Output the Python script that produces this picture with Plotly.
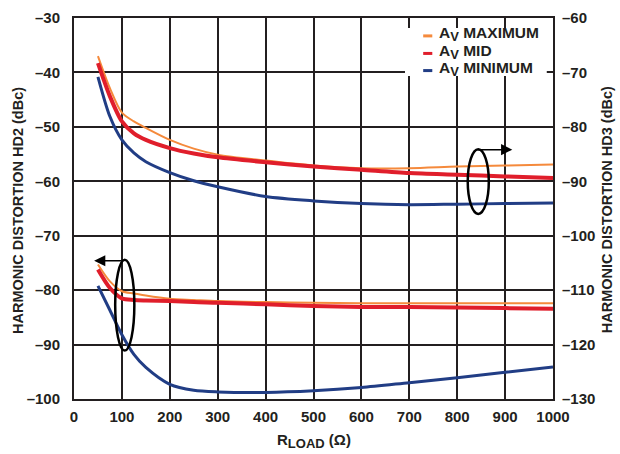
import plotly.graph_objects as go

# ---------------- data ----------------
r_load = [50, 75, 100, 125, 150, 200, 250, 300, 400, 500, 600, 700, 800, 900, 1000]

# HD2 (left axis, dBc)
hd2_max = [-75.3, -78.4, -80.2, -80.6, -81.0, -81.6, -81.8, -82.0, -82.2, -82.3, -82.4, -82.4, -82.4, -82.4, -82.4]
hd2_mid = [-76.2, -79.6, -81.5, -81.8, -81.9, -82.0, -82.2, -82.3, -82.6, -82.9, -83.1, -83.1, -83.2, -83.3, -83.4]
hd2_min = [-79.2, -83.7, -88.2, -91.8, -94.2, -97.3, -98.4, -98.7, -98.8, -98.5, -97.9, -97.0, -96.1, -95.1, -94.1]

# HD3 (right axis, dBc)
hd3_max = [-67.0, -72.9, -77.4, -79.0, -80.2, -82.4, -84.0, -85.1, -86.2, -87.1, -87.6, -87.6, -87.3, -87.1, -86.9]
hd3_mid = [-68.3, -74.4, -79.0, -81.2, -82.4, -83.9, -84.9, -85.6, -86.5, -87.3, -87.9, -88.5, -88.8, -89.1, -89.4]
hd3_min = [-70.8, -78.1, -82.4, -84.8, -86.4, -88.4, -89.9, -91.0, -92.8, -93.6, -94.1, -94.3, -94.2, -94.1, -94.0]

x_ticks = [0, 100, 200, 300, 400, 500, 600, 700, 800, 900, 1000]
y_left_ticks = [-100, -90, -80, -70, -60, -50, -40, -30]
y_right_ticks = [-130, -120, -110, -100, -90, -80, -70, -60]

series_names = ["A<sub><span style='font-size:13px'>V</span></sub> MAXIMUM",
                "A<sub><span style='font-size:13px'>V</span></sub> MID",
                "A<sub><span style='font-size:13px'>V</span></sub> MINIMUM"]
colors = ["#F58A3C", "#E01E2B", "#213D85"]
widths = [2, 4, 3]

FONT = "Arial, Liberation Sans, sans-serif"
INK = "#231F20"

fig = go.Figure()
for ys, c, w in zip([hd2_max, hd2_mid, hd2_min], colors, widths):
    fig.add_trace(go.Scatter(x=r_load, y=ys, mode="lines", line=dict(color=c, width=w, shape="spline", smoothing=0.8),
                             showlegend=False, hoverinfo="skip"))
for ys, c, w in zip([hd3_max, hd3_mid, hd3_min], colors, widths):
    fig.add_trace(go.Scatter(x=r_load, y=ys, mode="lines", yaxis="y2",
                             line=dict(color=c, width=w, shape="spline", smoothing=0.8),
                             showlegend=False, hoverinfo="skip"))

tickfont = dict(family=FONT, size=15, color=INK, weight="bold")

def dash(v):
    return str(v).replace("-", "\u2013")

fig.update_layout(
    width=620, height=454,
    margin=dict(l=74, r=67, t=18, b=55, autoexpand=False),
    paper_bgcolor="white", plot_bgcolor="white",
    xaxis=dict(range=[0, 1000], tickvals=x_ticks, ticktext=[str(v) for v in x_ticks],
               showgrid=True, gridcolor=INK, gridwidth=1.5, zeroline=False,
               showline=True, linecolor=INK, linewidth=2, mirror=True, automargin=False,
               tickfont=tickfont, ticks="", ticklabelstandoff=3),
    yaxis=dict(range=[-100, -30], tickvals=y_left_ticks, ticktext=[dash(v) for v in y_left_ticks],
               showgrid=True, gridcolor=INK, gridwidth=1.5, zeroline=False,
               showline=True, linecolor=INK, linewidth=2, mirror=True, automargin=False,
               tickfont=tickfont, ticks="", ticklabelstandoff=9),
    yaxis2=dict(range=[-130, -60], tickvals=y_right_ticks, ticktext=[dash(v) for v in y_right_ticks],
                overlaying="y", side="right", showgrid=False, zeroline=False, automargin=False,
                showline=False, tickfont=tickfont, ticks="", ticklabelstandoff=8),
    showlegend=False,
)

# axis titles
title_font = dict(family=FONT, size=14.5, color=INK, weight="bold")
fig.add_annotation(text="HARMONIC DISTORTION HD2 (dBc)", xref="paper", yref="paper", x=-0.117, y=0.496,
                   textangle=-90, showarrow=False, font=title_font, xanchor="center", yanchor="middle")
fig.add_annotation(text="HARMONIC DISTORTION HD3 (dBc)", xref="paper", yref="paper", x=1.113, y=0.496,
                   textangle=-90, showarrow=False, font=title_font, xanchor="center", yanchor="middle")
fig.add_annotation(text="R<sub><span style='font-size:13px'>LOAD</span></sub> (\u03A9)", xref="paper", yref="paper",
                   x=0.5, y=-0.11, showarrow=False, font=dict(family=FONT, size=15, color=INK, weight="bold"),
                   xanchor="center", yanchor="middle")

# legend (manual)
fig.add_shape(type="rect", xref="paper", yref="paper", x0=0.691, x1=0.987, y0=0.848, y1=0.974,
              fillcolor="white", line=dict(width=0), layer="above")
leg_y = [0.953, 0.907, 0.862]
for name, c, ly in zip(series_names, colors, leg_y):
    fig.add_shape(type="line", xref="paper", yref="paper", x0=0.729, x1=0.748, y0=ly, y1=ly,
                  line=dict(color=c, width=3), layer="above")
    fig.add_annotation(text=name, xref="paper", yref="paper", x=0.758, y=ly + 0.004, xanchor="left", yanchor="middle",
                       showarrow=False, font=dict(family=FONT, size=15.5, color=INK, weight="bold"))

# ellipses with arrows
fig.add_shape(type="circle", xref="x", yref="y", x0=822, x1=866, y0=-66.0, y1=-54.1,
              line=dict(color="black", width=2.5), layer="above")
fig.add_annotation(x=915, y=-54.2, ax=840, ay=-54.2, xref="x", yref="y", axref="x", ayref="y",
                   text="", showarrow=True, arrowhead=2, arrowsize=1.4, arrowwidth=1.6, arrowcolor="black")
fig.add_shape(type="circle", xref="x", yref="y", x0=86, x1=126, y0=-91.1, y1=-74.4,
              line=dict(color="black", width=2.5), layer="above")
fig.add_annotation(x=42, y=-74.6, ax=102, ay=-74.6, xref="x", yref="y", axref="x", ayref="y",
                   text="", showarrow=True, arrowhead=2, arrowsize=1.4, arrowwidth=1.6, arrowcolor="black")

fig.write_html("out.html", config={"displayModeBar": False},
               post_script="document.body.style.margin='0';")
